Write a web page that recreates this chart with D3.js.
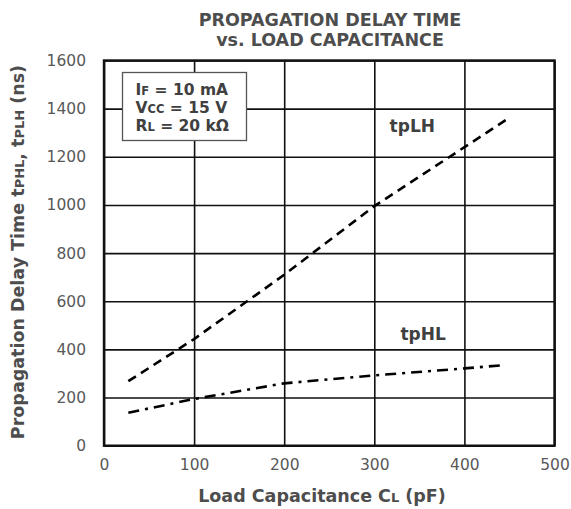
<!DOCTYPE html>
<html><head><meta charset="utf-8">
<script src="https://cdn.jsdelivr.net/npm/d3@7"></script>
<style>body{margin:0;background:#fff}svg{display:block}</style>
</head><body>
<script>
const xTicks=[0,100,200,300,400,500];
const yTicks=[0,200,400,600,800,1000,1200,1400,1600];
const tpLH_C=[27,100,200,300,451];
const tpLH_T=[268,443,710,995,1365];
const tpHL_C=[27,100,200,300,400,442];
const tpHL_T=[137,194,259,292,321,334];

const W=571,H=509;
const svg=d3.select("body").append("svg").attr("width",W).attr("height",H);
const x=d3.scaleLinear().domain([0,500]).range([104,554.5]);
const y=d3.scaleLinear().domain([0,1600]).range([445.7,60.5]);
const font="DejaVu Sans, Verdana, sans-serif";

// grid
svg.append("g").attr("transform",`translate(${x(0)},0)`)
 .call(d3.axisLeft(y).tickValues(yTicks).tickSize(-(x(500)-x(0))).tickFormat(""))
 .call(g=>{g.select(".domain").remove();g.selectAll("line").attr("stroke","#111").attr("stroke-width",1.6);});
svg.append("g").attr("transform",`translate(0,${y(0)})`)
 .call(d3.axisBottom(x).tickValues(xTicks).tickSize(-(y(0)-y(1600))).tickFormat(""))
 .call(g=>{g.select(".domain").remove();g.selectAll("line").attr("stroke","#111").attr("stroke-width",1.6);});
svg.append("rect").attr("x",x(0)).attr("y",y(1600)).attr("width",x(500)-x(0)).attr("height",y(0)-y(1600))
 .attr("fill","none").attr("stroke","#111").attr("stroke-width",2.4);

// tick labels
const fmt=d3.format("d");
svg.append("g").attr("transform",`translate(${x(0)},0)`)
 .call(d3.axisLeft(y).tickValues(yTicks).tickSize(0).tickPadding(18).tickFormat(fmt))
 .call(g=>{g.select(".domain").remove();g.selectAll("text").attr("font-family",font).attr("font-size",15.5).attr("fill","#595959");});
svg.append("g").attr("transform",`translate(0,${y(0)})`)
 .call(d3.axisBottom(x).tickValues(xTicks).tickSize(0).tickPadding(13).tickFormat(fmt))
 .call(g=>{g.select(".domain").remove();g.selectAll("text").attr("font-family",font).attr("font-size",15.5).attr("fill","#595959");});

// lines
const line=d3.line().x(d=>x(d[0])).y(d=>y(d[1]));
svg.append("path").datum(d3.zip(tpLH_C,tpLH_T)).attr("d",line).attr("fill","none")
 .attr("stroke","#000").attr("stroke-width",2.6).attr("stroke-dasharray","9,6");
svg.append("path").datum(d3.zip(tpHL_C,tpHL_T)).attr("d",line).attr("fill","none")
 .attr("stroke","#000").attr("stroke-width",2.6).attr("stroke-dasharray","11,6,3,6");

// curve labels
svg.append("text").attr("x",x(317)).attr("y",y(1305)).attr("font-family",font).attr("font-weight","bold")
 .attr("font-size",17).attr("fill","#404040").text("tpLH");
svg.append("text").attr("x",x(329)).attr("y",y(440)).attr("font-family",font).attr("font-weight","bold")
 .attr("font-size",17).attr("fill","#404040").text("tpHL");

// condition box
svg.append("rect").attr("x",122.5).attr("y",72.5).attr("width",124).attr("height",68)
 .attr("fill","#fff").attr("stroke","#555").attr("stroke-width",1.3);
const cond=[["I","F"," = 10 mA"],["V","CC"," = 15 V"],["R","L"," = 20 kΩ"]];
cond.forEach((c,i)=>{
  const t=svg.append("text").attr("x",135.5).attr("y",95+i*18).attr("font-family",font).attr("font-weight","bold")
   .attr("font-size",15.5).attr("fill","#404040");
  t.append("tspan").text(c[0]);
  t.append("tspan").attr("font-size",11.5).text(c[1]);
  t.append("tspan").text(c[2]);
});

// title
svg.append("text").attr("x",330).attr("y",26).attr("text-anchor","middle").attr("font-family",font)
 .attr("font-weight","bold").attr("font-size",17.5).attr("fill","#4d4d4d").text("PROPAGATION DELAY TIME");
svg.append("text").attr("x",330).attr("y",45.5).attr("text-anchor","middle").attr("font-family",font)
 .attr("font-weight","bold").attr("font-size",17.5).attr("fill","#4d4d4d").text("vs. LOAD CAPACITANCE");

// axis titles
svg.append("text").attr("x",322).attr("y",502).attr("text-anchor","middle").attr("font-family",font)
 .attr("font-weight","bold").attr("font-size",17.5).attr("fill","#4d4d4d")
 .call(t=>{t.append("tspan").text("Load Capacitance C");t.append("tspan").attr("font-size",13).text("L");t.append("tspan").text(" (pF)");});
svg.append("text").attr("transform","translate(24,252) rotate(-90)").attr("text-anchor","middle").attr("font-family",font)
 .attr("font-weight","bold").attr("font-size",17.5).attr("fill","#4d4d4d")
 .call(t=>{t.append("tspan").text("Propagation Delay Time t");t.append("tspan").attr("font-size",13).text("PHL");
   t.append("tspan").text(", t");t.append("tspan").attr("font-size",13).text("PLH");t.append("tspan").text(" (ns)");});
</script>
</body></html>
